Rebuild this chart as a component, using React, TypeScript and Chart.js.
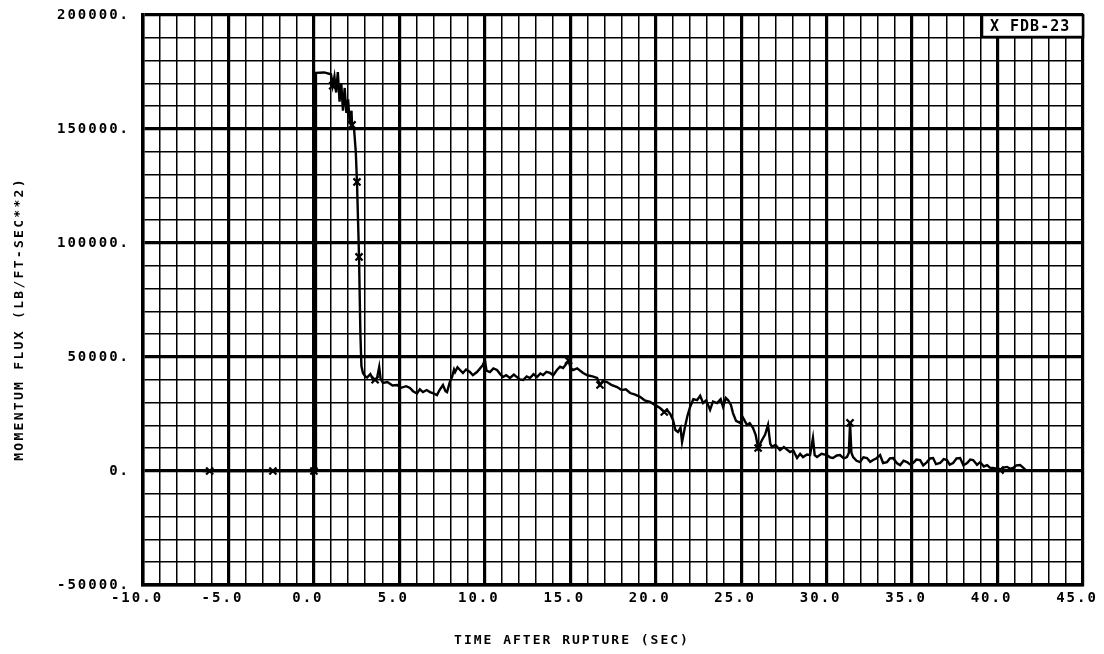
import React, { useEffect, useRef } from 'react';
import { Chart, registerables } from 'chart.js';

Chart.register(...registerables);

// ---- data ----
const timeSec = [
  -6.5, -6.1, -2.4, 0.0, 0.1, 0.12, 0.6, 1.0, 1.1, 1.2, 1.3, 1.4, 1.5, 1.6, 1.7, 1.8, 1.9, 2.0, 2.1, 2.2,
  2.23, 2.35, 2.45, 2.52, 2.6, 2.64, 2.72, 2.78, 2.87, 3.0, 3.11, 3.3, 3.46, 3.58, 3.7, 3.82, 3.9, 4.04, 4.3, 4.6,
  4.86, 5.1, 5.4, 5.62, 5.8, 6.03, 6.2, 6.38, 6.6, 6.79, 7.0, 7.2, 7.35, 7.55, 7.7, 7.79, 7.95, 8.08, 8.2, 8.26,
  8.4, 8.55, 8.72, 8.9, 9.13, 9.3, 9.54, 9.7, 9.89, 10.0, 10.1, 10.3, 10.5, 10.71, 10.9, 11.06, 11.25, 11.47, 11.7, 11.88,
  12.05, 12.24, 12.45, 12.64, 12.85, 13.05, 13.25, 13.41, 13.6, 13.82, 14.0, 14.22, 14.4, 14.58, 14.75, 14.9, 15.0, 15.16, 15.4, 15.75,
  16.0, 16.3, 16.57, 16.74, 16.9, 17.15, 17.4, 17.74, 18.0, 18.25, 18.5, 18.8, 19.08, 19.35, 19.67, 19.95, 20.25, 20.5, 20.66, 20.85,
  21.01, 21.15, 21.3, 21.45, 21.54, 21.71, 21.85, 22.01, 22.2, 22.42, 22.6, 22.77, 22.95, 23.18, 23.35, 23.59, 23.8, 23.94, 24.1, 24.23,
  24.4, 24.52, 24.7, 24.93, 25.1, 25.34, 25.5, 25.69, 25.85, 25.99, 26.22, 26.4, 26.57, 26.7, 26.81, 27.0, 27.27, 27.5, 27.86, 28.05,
  28.27, 28.45, 28.62, 28.85, 29.03, 29.2, 29.3, 29.44, 29.7, 30.02, 30.2, 30.37, 30.6, 30.78, 31.0, 31.19, 31.3, 31.37, 31.45, 31.55,
  31.75, 31.95, 32.15, 32.36, 32.55, 32.72, 32.9, 33.13, 33.3, 33.53, 33.7, 33.89, 34.1, 34.3, 34.5, 34.7, 34.9, 35.06, 35.25, 35.47,
  35.65, 35.87, 36.05, 36.23, 36.4, 36.64, 36.85, 37.04, 37.2, 37.4, 37.6, 37.81, 38.0, 38.22, 38.4, 38.57, 38.8, 38.98, 39.2, 39.39,
  39.55, 39.74, 39.95, 40.15, 40.35, 40.56, 40.75, 40.91, 41.1, 41.32, 41.5, 41.65,
];

const momentumFlux = [
  0, 0, 0, 0, 0, 174600, 174800, 174000, 169000, 173000, 166000, 175000, 162000, 170000, 158000, 168000, 157000, 163000, 152000, 158000,
  151800, 150000, 140000, 126800, 105000, 93900, 60000, 46000, 43000, 41500, 41000, 42500, 40000, 40000, 41000, 45600, 40500, 38600, 39000, 37500,
  37700, 36500, 37200, 36400, 35000, 34000, 35800, 34600, 35500, 34600, 34000, 33300, 35500, 37700, 35000, 34600, 39000, 41200, 44500, 43400,
  45500, 44300, 43000, 44500, 43400, 42000, 43400, 44800, 46500, 48700, 44000, 43400, 45000, 44300, 42500, 41200, 42000, 40800, 42300, 41200,
  40200, 39900, 41500, 40800, 42500, 41200, 42800, 42100, 43500, 43000, 42000, 44300, 45800, 45200, 46800, 48500, 45500, 44300, 45000, 43000,
  42000, 41500, 40800, 37700, 39500, 39000, 37800, 36800, 35500, 35800, 34200, 33500, 32500, 31000, 30300, 29000, 27600, 25900, 26800, 25000,
  22400, 18000, 17100, 19000, 12700, 19300, 24000, 28100, 31500, 31100, 33000, 29800, 31000, 26800, 30500, 29800, 31500, 28100, 32000, 31100,
  29000, 25400, 22000, 21100, 23500, 20200, 21000, 18900, 15800, 10100, 13600, 16000, 20200, 12000, 10500, 11500, 9200, 10500, 8300, 9000,
  5700, 7500, 6100, 7200, 7000, 14500, 7000, 6100, 7500, 7000, 6000, 5700, 6800, 7000, 5500, 6100, 8000, 21100, 8000, 6100,
  4500, 3900, 6000, 5700, 4000, 4800, 5500, 7000, 3500, 3900, 5500, 5700, 3500, 2600, 4500, 3900, 2800, 3500, 5000, 4800,
  2500, 3900, 5500, 5700, 3000, 3500, 5200, 4800, 2800, 3500, 5500, 5700, 2500, 3500, 5000, 4800, 2700, 3900, 2000, 2600,
  1500, 1300, 1000, 400, 1500, 1800, 1000, 1300, 2500, 2600, 1500, 400,
];

const markerTime = [-6.1, -2.4, 0.0, 1.1, 2.23, 2.52, 2.64, 3.58, 14.9, 16.74, 20.5, 25.99, 31.37, 40.15];
const markerFlux = [0, 0, 0, 169000, 151800, 126800, 93900, 40000, 48500, 37700, 25900, 10100, 21100, 400];

const xMajorTicks = [-10, -5, 0, 5, 10, 15, 20, 25, 30, 35, 40, 45];
const xTickLabels = ['-10.0', '-5.0', '0.0', '5.0', '10.0', '15.0', '20.0', '25.0', '30.0', '35.0', '40.0', '45.0'];
const yMajorTicks = [-50000, 0, 50000, 100000, 150000, 200000];
const yTickLabels = ['-50000.', '0.', '50000.', '100000.', '150000.', '200000.'];

const seriesName = 'FDB-23';
const xTitle = 'TIME AFTER RUPTURE (SEC)';
const yTitle = 'MOMENTUM FLUX (LB/FT-SEC**2)';

const FONT = "'DejaVu Sans Mono', 'Liberation Mono', monospace";

export default function App() {
  const ref = useRef<HTMLCanvasElement | null>(null);

  useEffect(() => {
    const canvas = ref.current;
    if (!canvas) return;

    const isMajor = (v: number, step: number) => Math.abs(v / step - Math.round(v / step)) < 1e-6;

    const decor = {
      id: 'plotterDecor',
      beforeDraw(chart: any) {
        chart.ctx.letterSpacing = '2px';
      },
      afterDraw(chart: any) {
        const ctx = chart.ctx;
        ctx.save();
        ctx.fillStyle = '#000';
        ctx.letterSpacing = '2px';
        ctx.font = `bold 13px ${FONT}`;
        ctx.textAlign = 'center';
        ctx.textBaseline = 'middle';
        ctx.fillText(xTitle, 572, 641);
        ctx.save();
        ctx.translate(20, 319);
        ctx.rotate(-Math.PI / 2);
        ctx.letterSpacing = '2.3px';
        ctx.fillText(yTitle, 0, 0);
        ctx.restore();

        // legend box
        const area = chart.chartArea;
        const bx = 982, by = area.top, bw = area.right - 982, bh = 22;
        ctx.fillStyle = '#fff';
        ctx.fillRect(bx, by, bw, bh);
        ctx.strokeStyle = '#000';
        ctx.lineWidth = 2.5;
        ctx.strokeRect(bx, by, bw, bh);
        ctx.fillStyle = '#000';
        ctx.font = `bold 15px ${FONT}`;
        ctx.letterSpacing = '1px';
        ctx.textAlign = 'left';
        ctx.fillText('X ' + seriesName, 990, by + 12);
        ctx.restore();
        ctx.letterSpacing = '0px';
      },
    };

    const chart = new Chart(canvas, {
      type: 'scatter',
      data: {
        datasets: [
          {
            label: seriesName,
            data: timeSec.map((t, i) => ({ x: t, y: momentumFlux[i] })),
            showLine: true,
            borderColor: '#000',
            borderWidth: 2.4,
            pointRadius: 0,
            tension: 0,
          },
          {
            label: seriesName + ' markers',
            data: markerTime.map((t, i) => ({ x: t, y: markerFlux[i] })),
            showLine: false,
            pointStyle: 'crossRot',
            pointRadius: 5,
            borderColor: '#000',
            borderWidth: 2.2,
            backgroundColor: '#000',
          },
        ],
      },
      options: {
        animation: false,
        responsive: false,
        layout: { padding: { left: 0, right: 21, top: 15, bottom: 0 } },
        plugins: { legend: { display: false }, tooltip: { enabled: false } },
        scales: {
          x: {
            type: 'linear',
            min: -10,
            max: 45,
            afterFit: (s: any) => { s.height = 69; s.paddingLeft = 0; s.paddingRight = 0; },
            ticks: {
              stepSize: 1,
              autoSkip: false,
              maxRotation: 0,
              minRotation: 0,
              padding: 5,
              labelOffset: -6,
              color: '#000',
              font: { family: FONT, size: 14, weight: 'bold' },
              callback: (v: any) => {
                const i = xMajorTicks.indexOf(Number(v));
                return i >= 0 ? xTickLabels[i] : '';
              },
            },
            grid: {
              drawTicks: false,
              color: '#000',
              lineWidth: (c: any) => (c.tick && isMajor(c.tick.value, 5) ? 3.2 : 1.5),
            },
            border: { display: true, color: '#000', width: 3.5 },
          },
          y: {
            type: 'linear',
            min: -50000,
            max: 200000,
            afterFit: (s: any) => { s.width = 143; s.paddingTop = 0; s.paddingBottom = 0; },
            ticks: {
              stepSize: 10000,
              autoSkip: false,
              padding: 13,
              color: '#000',
              font: { family: FONT, size: 14, weight: 'bold' },
              callback: (v: any) => {
                const i = yMajorTicks.indexOf(Number(v));
                return i >= 0 ? yTickLabels[i] : '';
              },
            },
            grid: {
              drawTicks: false,
              color: '#000',
              lineWidth: (c: any) => (c.tick && isMajor(c.tick.value, 50000) ? 3.2 : 1.5),
            },
            border: { display: true, color: '#000', width: 3.5 },
          },
        },
      },
      plugins: [decor],
    } as any);

    return () => chart.destroy();
  }, []);

  return (
    <div style={{ position: 'fixed', left: 0, top: 0, width: 1104, height: 654, background: '#fff' }}>
      <canvas ref={ref} width={1104} height={654} />
    </div>
  );
}
